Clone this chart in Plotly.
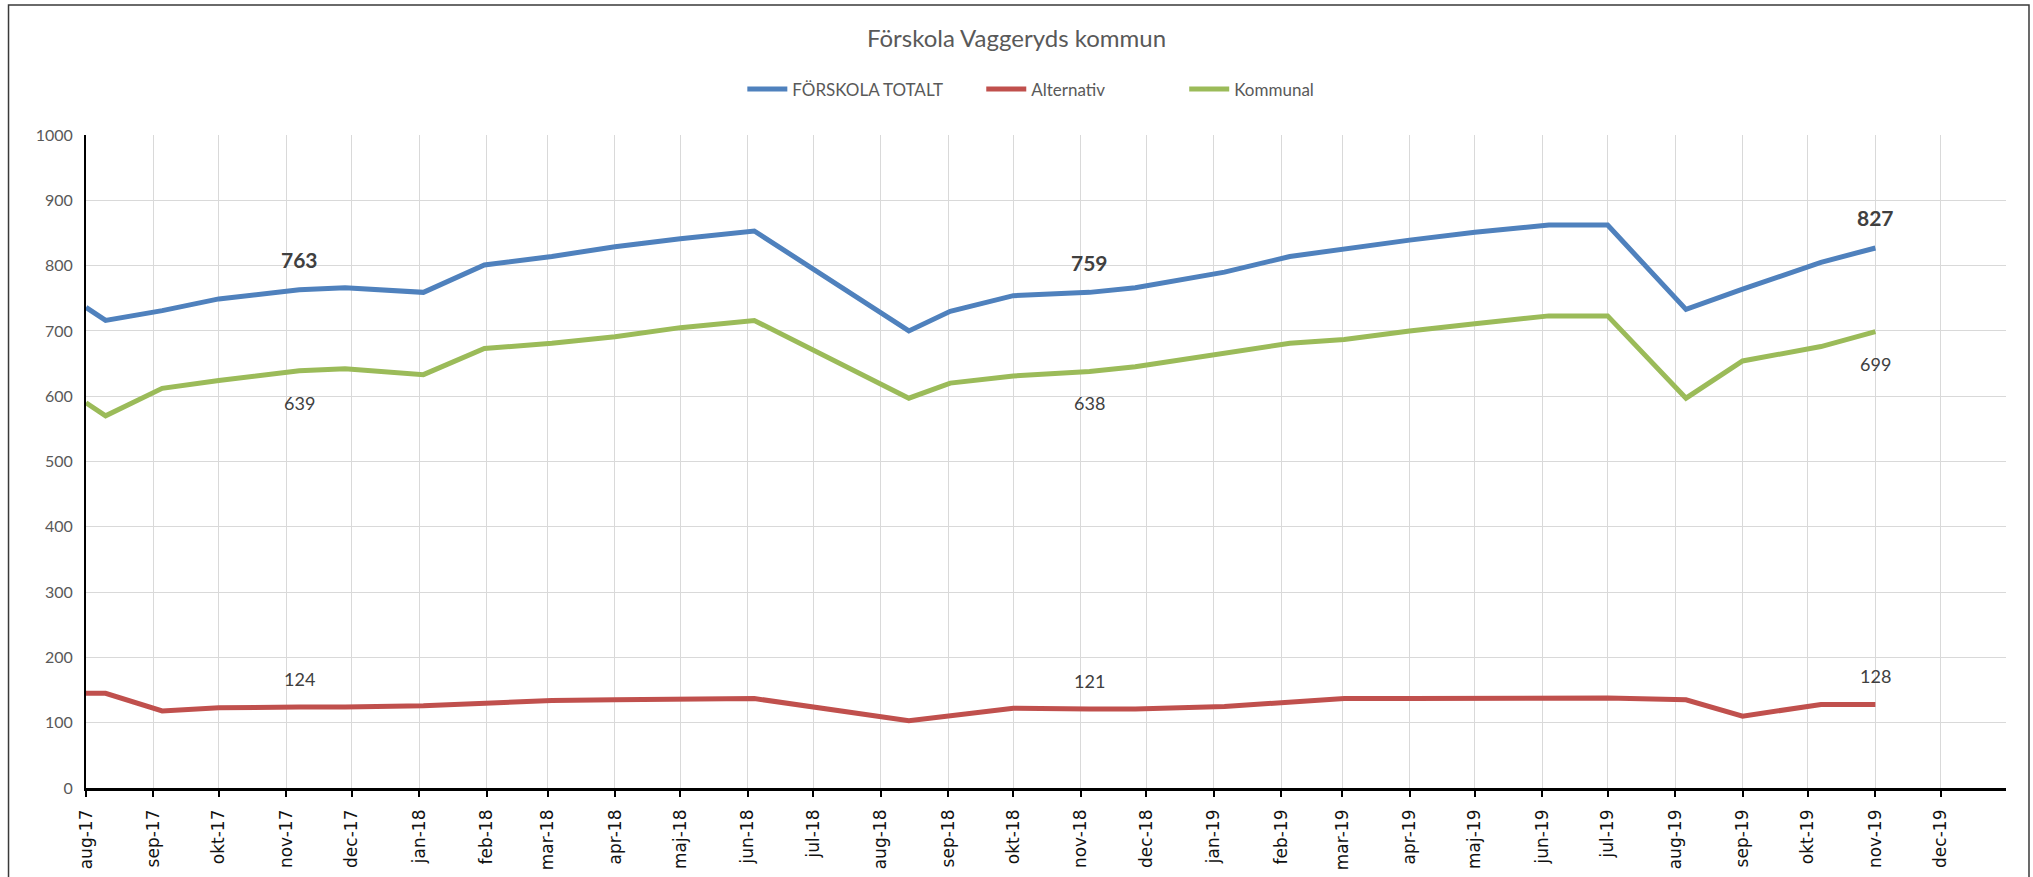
import plotly.graph_objects as go
import pandas as pd

# ---- data ----
dates = [
    "2017-08-01", "2017-08-10", "2017-09-05", "2017-10-01", "2017-11-07", "2017-11-28",
    "2018-01-03", "2018-01-31", "2018-03-03", "2018-04-01", "2018-05-01", "2018-06-04",
    "2018-08-14", "2018-09-02", "2018-10-01", "2018-11-05", "2018-11-26",
    "2019-01-06", "2019-02-05", "2019-03-02", "2019-04-01", "2019-05-01", "2019-06-04",
    "2019-07-01", "2019-08-06", "2019-09-01", "2019-10-07", "2019-11-01",
]
forskola_totalt = [736, 716, 731, 749, 763, 766, 759, 801, 814, 829, 841, 853,
                   700, 730, 754, 759, 766, 790, 814, 826, 839, 851, 862, 862,
                   733, 764, 805, 827]
alternativ = [145, 145, 118, 123, 124, 124, 126, 129, 134, 135, 136, 137,
              103, 111, 122, 121, 121, 125, 131, 137, 137, 137, 138, 138,
              135, 110, 128, 128]
kommunal = [590, 570, 612, 624, 639, 642, 633, 673, 681, 691, 705, 716,
            597, 620, 631, 638, 645, 666, 681, 687, 700, 711, 723, 723,
            597, 654, 676, 699]

series_names = ["FÖRSKOLA TOTALT", "Alternativ", "Kommunal"]
series_colors = ["#4F81BD", "#C0504D", "#9BBB59"]

tick_labels = [
    "aug-17", "sep-17", "okt-17", "nov-17", "dec-17",
    "jan-18", "feb-18", "mar-18", "apr-18", "maj-18", "jun-18", "jul-18",
    "aug-18", "sep-18", "okt-18", "nov-18", "dec-18",
    "jan-19", "feb-19", "mar-19", "apr-19", "maj-19", "jun-19", "jul-19",
    "aug-19", "sep-19", "okt-19", "nov-19", "dec-19",
]
tick_dates = pd.date_range("2017-08-01", periods=len(tick_labels), freq="MS")

label_idx = [4, 15, 27]  # points that carry data labels

title_text = "Förskola Vaggeryds kommun"

W, H = 2033, 877
L, R, T, B = 85.5, 27, 135, 89
pw, ph = W - L - R, H - T - B

def px_to_paper_x(px):
    return (px - L) / pw

def px_to_paper_y(py):
    return (H - B - py) / ph

# ---- figure ----
fig = go.Figure()
legend_ids = ["legend", "legend2", "legend3"]
for name, vals, col, lg in zip(series_names, [forskola_totalt, alternativ, kommunal],
                               series_colors, legend_ids):
    fig.add_trace(go.Scatter(
        x=pd.to_datetime(dates), y=vals, name=name, mode="lines",
        line=dict(color=col, width=5), legend=lg,
    ))

annotations = []
for i in label_idx:
    annotations.append(dict(x=pd.to_datetime(dates[i]), y=forskola_totalt[i], xref="x", yref="y",
                            text="<b>%d</b>" % forskola_totalt[i], showarrow=False, yshift=30,
                            font=dict(family="Lato", size=21, color="#404040")))
    annotations.append(dict(x=pd.to_datetime(dates[i]), y=kommunal[i], xref="x", yref="y",
                            text="%d" % kommunal[i], showarrow=False, yshift=-32,
                            font=dict(family="Lato", size=18, color="#404040")))
    annotations.append(dict(x=pd.to_datetime(dates[i]), y=alternativ[i], xref="x", yref="y",
                            text="%d" % alternativ[i], showarrow=False, yshift=28,
                            font=dict(family="Lato", size=18, color="#404040")))

legend_common = dict(orientation="h", xanchor="left", xref="paper", yref="paper",
                     y=px_to_paper_y(89.5), yanchor="middle",
                     font=dict(family="Lato", size=17, color="#595959"),
                     itemwidth=40, bgcolor="rgba(0,0,0,0)", borderwidth=0)
legend_starts_px = [742, 981, 1184]

fig.update_layout(
    width=W, height=H,
    margin=dict(l=L, r=R, t=T, b=B, pad=0, autoexpand=False),
    paper_bgcolor="white", plot_bgcolor="white",
    title=dict(text=title_text, x=0.5, xref="container", xanchor="center",
               y=1 - 39 / H, yanchor="middle",
               font=dict(family="Lato", size=24, color="#595959")),
    legend=dict(x=px_to_paper_x(legend_starts_px[0]), **legend_common),
    legend2=dict(x=px_to_paper_x(legend_starts_px[1]), **legend_common),
    legend3=dict(x=px_to_paper_x(legend_starts_px[2]), **legend_common),
    showlegend=True,
    annotations=annotations,
    shapes=[dict(type="rect", xref="paper", yref="paper",
                 x0=px_to_paper_x(8), x1=px_to_paper_x(2029),
                 y0=px_to_paper_y(H + 10), y1=px_to_paper_y(5),
                 line=dict(color="#3a3a3a", width=1.5), fillcolor="rgba(0,0,0,0)", layer="below")],
)

fig.update_xaxes(
    type="date", automargin=False,
    range=["2017-08-01", "2019-12-31"],
    tickvals=tick_dates, ticktext=tick_labels, tickangle=-90,
    tickfont=dict(family="DejaVu Sans", size=17, color="#111111"),
    ticks="outside", ticklen=6, tickwidth=1.5, tickcolor="black",
    showgrid=True, gridcolor="#d9d9d9", gridwidth=1.3,
    showline=True, linecolor="black", linewidth=2.5,
    zeroline=False, ticklabelstandoff=6,
)
fig.update_yaxes(
    range=[0, 1000], dtick=100, tick0=0, automargin=False,
    tickfont=dict(family="Lato", size=16, color="#595959"),
    showgrid=True, gridcolor="#d9d9d9", gridwidth=1.3,
    showline=True, linecolor="black", linewidth=2,
    zeroline=False, ticks="", ticklabelstandoff=8,
)

fig.write_html("out.html",
               config={"displayModeBar": False},
               post_script="document.body.style.margin='0';document.body.style.overflow='hidden';")
